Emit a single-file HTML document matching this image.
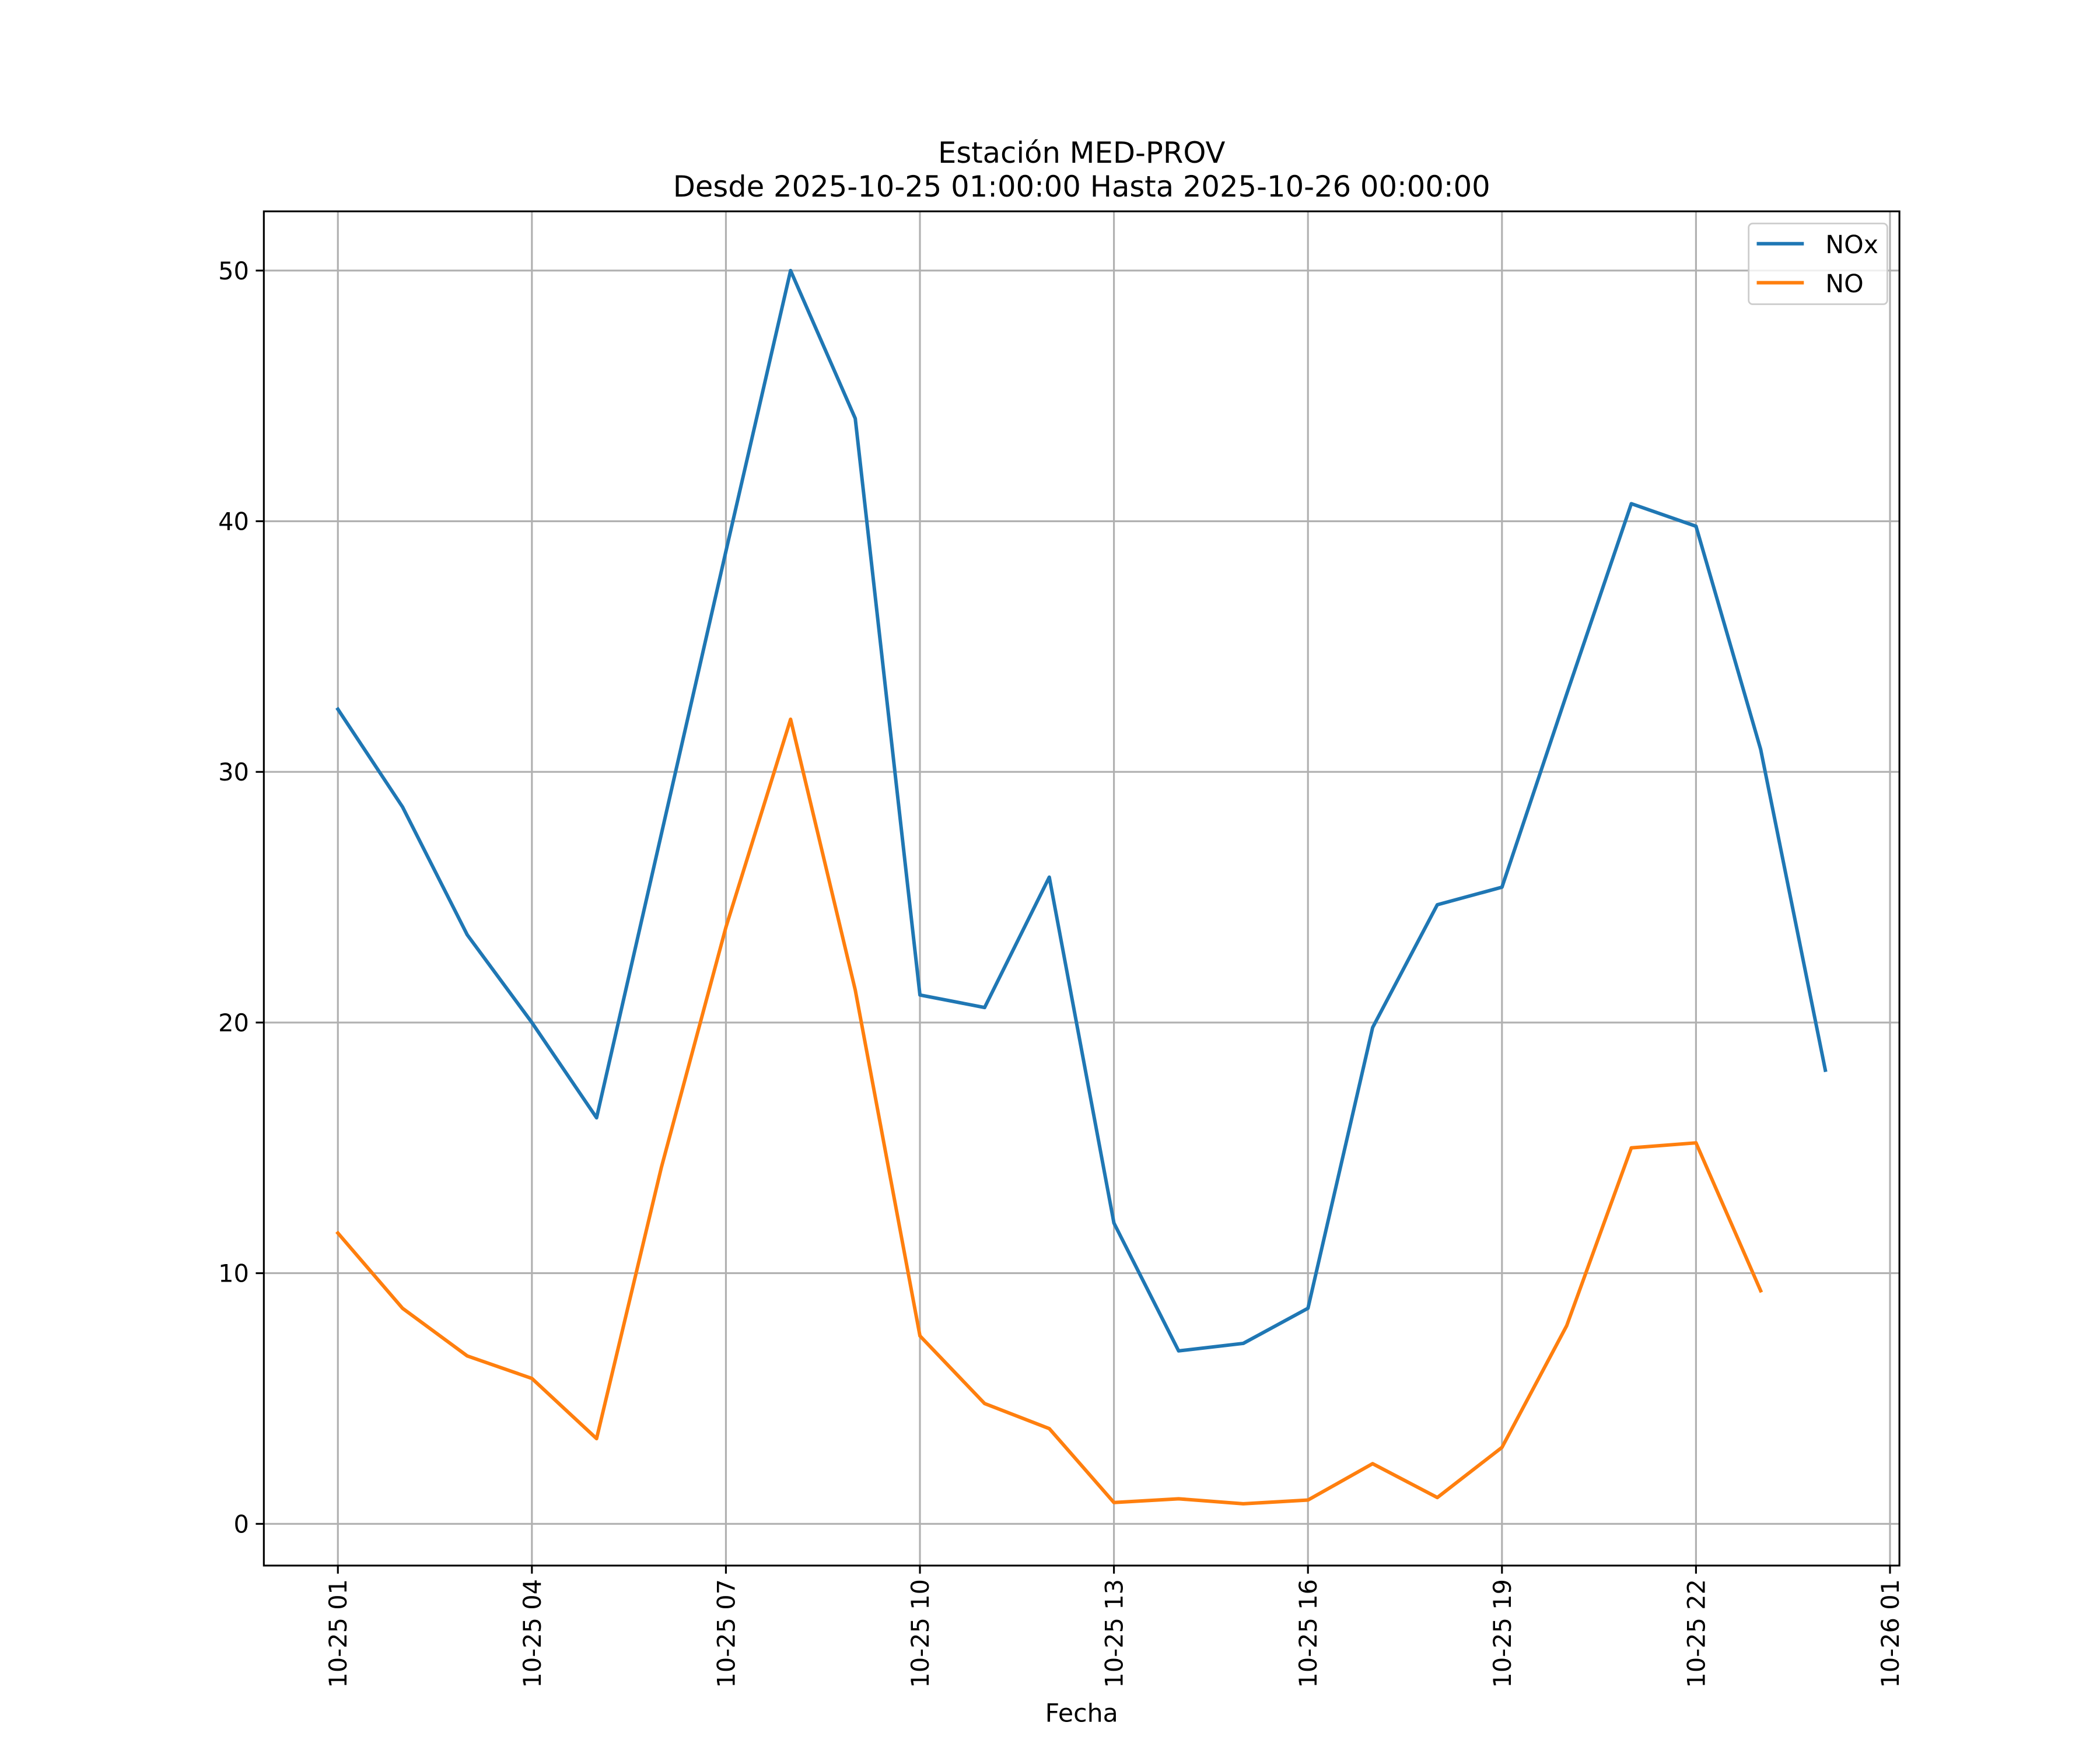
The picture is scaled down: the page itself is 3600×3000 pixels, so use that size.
<!DOCTYPE html>
<html><head><meta charset="utf-8"><style>
html,body{margin:0;padding:0;background:#fff;}
svg{display:block;font-family:"DejaVu Sans","Liberation Sans",sans-serif;}
</style></head><body>
<svg id="chart" width="3600" height="3000" viewBox="0 0 1560 1300" xmlns="http://www.w3.org/2000/svg">
<rect width="1560" height="1300" fill="#fff"/>
<text x="803.5" y="121" text-anchor="middle" font-size="21.5">Estación MED-PROV</text>
<text x="803.5" y="146" text-anchor="middle" font-size="21.5">Desde 2025-10-25 01:00:00 Hasta 2025-10-26 00:00:00</text>
<g id="grid"></g>
<g id="series"></g>
<rect x="196" y="157" width="1215" height="1006" fill="none" stroke="#000" stroke-width="1.35"/>
<g id="axes"></g>
<text x="803.5" y="1279" text-anchor="middle" font-size="18.5">Fecha</text>
<g>
<rect x="1299" y="166" width="103" height="60" rx="3" fill="#fff" fill-opacity="0.8" stroke="#ccc" stroke-width="1.2"/>
<line x1="1305" y1="181" x2="1340" y2="181" stroke="#1f77b4" stroke-width="2.6"/>
<text x="1356" y="188" font-size="18.5">NOx</text>
<line x1="1305" y1="210" x2="1340" y2="210" stroke="#ff7f0e" stroke-width="2.6"/>
<text x="1356" y="217" font-size="18.5">NO</text>
</g>
</svg>
<script>
const hours = [1,2,3,4,5,6,7,8,9,10,11,12,13,14,15,16,17,18,19,20,21,22,23,24];
const noxValues = [32.5,28.6,23.5,20.0,16.2,27.5,38.8,50.0,44.1,21.1,20.6,25.8,12.0,6.9,7.2,8.6,19.8,24.7,25.4,33.1,40.7,39.8,30.9,18.1];
const noValues = [11.6,8.6,6.7,5.8,3.4,14.2,23.8,32.1,21.3,7.5,4.8,3.8,0.85,1.0,0.8,0.95,2.4,1.05,3.05,7.9,15.0,15.2,9.3,null];
const yTicks = [0,10,20,30,40,50];
const xTickHours = [1,4,7,10,13,16,19,22,25];
const xTickLabels = ["10-25 01","10-25 04","10-25 07","10-25 10","10-25 13","10-25 16","10-25 19","10-25 22","10-26 01"];

const NS = "http://www.w3.org/2000/svg";
const X0 = 196, X1 = 1411, Y0 = 157, Y1 = 1163;
function xs(h){ return 251 + (h - 1) * (1153 / 24); }
function ys(v){ return 1132 - v * (931 / 50); }
function mk(tag, attrs, parent){ const e = document.createElementNS(NS, tag); for (const k in attrs) e.setAttribute(k, attrs[k]); parent.appendChild(e); return e; }

const grid = document.getElementById('grid');
const axes = document.getElementById('axes');
yTicks.forEach(v => {
  const y = ys(v);
  const g = mk('line', {x1:X0, x2:X1, y1:y, y2:y, stroke:'#b0b0b0', 'stroke-width':1.35}, grid);
  
  
  const t = mk('line', {x1:X0-6, x2:X0, y1:y, y2:y, stroke:'#000', 'stroke-width':1.35}, axes);
  
  
  const l = mk('text', {x:X0-11, y:y+6.5, 'text-anchor':'end', 'font-size':18}, axes);
  l.textContent = v;
  
  
});
xTickHours.forEach((h, i) => {
  const x = xs(h);
  const g = mk('line', {x1:x, x2:x, y1:Y0, y2:Y1, stroke:'#b0b0b0', 'stroke-width':1.35}, grid);
  
  
  const t = mk('line', {x1:x, x2:x, y1:Y1, y2:Y1+6, stroke:'#000', 'stroke-width':1.35}, axes);
  
  
  const l = mk('text', {x:0, y:0, 'text-anchor':'end', 'font-size':18, transform:`translate(${x+6.5},${Y1+10}) rotate(-90)`}, axes);
  l.textContent = xTickLabels[i];
  
  
});

const series = document.getElementById('series');
function drawLine(vals, color, name){
  let d = '', pen = false;
  vals.forEach((v, i) => {
    if (v === null) { pen = false; return; }
    d += (pen ? 'L' : 'M') + xs(hours[i]).toFixed(2) + ',' + ys(v).toFixed(2);
    pen = true;
  });
  const p = mk('path', {d:d, fill:'none', stroke:color, 'stroke-width':2.6, 'stroke-linejoin':'round', 'stroke-linecap':'square'}, series);
  
  
}
drawLine(noxValues, '#1f77b4', 'nox-line');
drawLine(noValues, '#ff7f0e', 'no-line');
</script>
</body></html>
